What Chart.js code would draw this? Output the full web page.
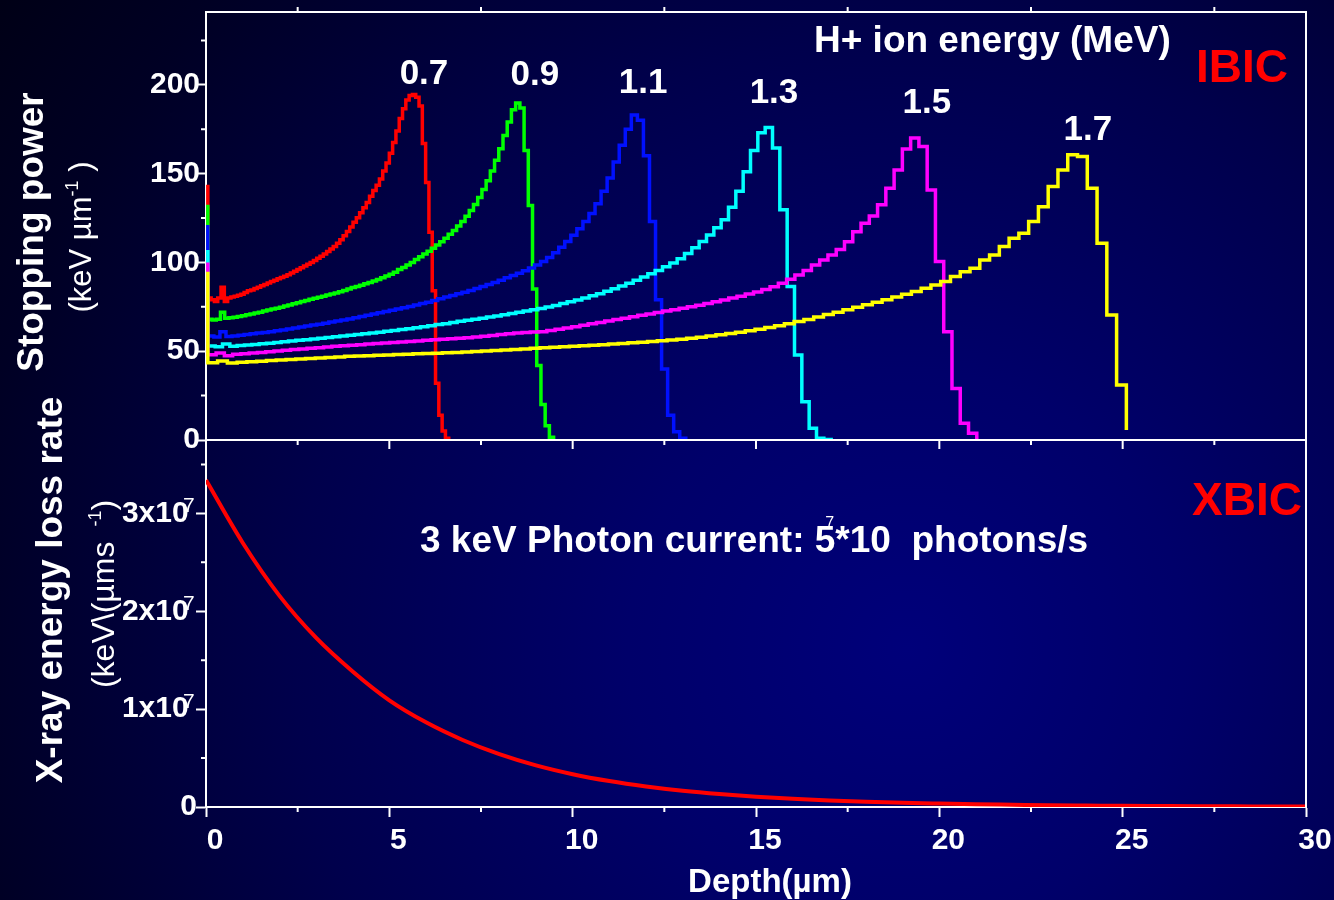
<!DOCTYPE html>
<html>
<head>
<meta charset="utf-8">
<script src="https://cdn.jsdelivr.net/npm/chart.js@4.4.1/dist/chart.umd.min.js"></script>
<style>
  html, body { margin: 0; padding: 0; }
  body {
    width: 1334px; height: 900px; overflow: hidden;
    background: radial-gradient(circle at 68% 72%, #00007a 0%, #00006a 25%, #00004c 55%, #000024 85%, #000016 100%);
  }
  canvas { display: block; }
</style>
</head>
<body>
<canvas id="depthChart" width="1334" height="900"></canvas>
<script>
// ---- data ----
const depthTicks = [0, 5, 10, 15, 20, 25, 30];
const spTicks = [0, 50, 100, 150, 200];
const xrayTicks = [0, 1e7, 2e7, 3e7];

const ionEnergy = ['0.7', '0.9', '1.1', '1.3', '1.5', '1.7'];
const ionColor = ['#ff0000', '#00ff00', '#0010ff', '#00ffff', '#ff00ff', '#ffff00'];
// value at the surface spike, and histogram bin width (um) of each run
const entrySpike = [143.7, 132.4, 121, 107, 99.9, 94.8];
const binWidth = [0.09, 0.115, 0.165, 0.2, 0.2255, 0.2665];

// stopping power per bin (keV/um)
const sp07 = [80, 79, 78, 80, 86, 78, 80, 80.5, 81, 81.5,
  82, 83, 84, 84.5, 85.3, 86, 86.8, 87.6, 88.4, 89.2,
  90, 90.8, 91.5, 92.2, 93, 94, 95, 96, 97, 98,
  99, 100, 101.1, 102.3, 103.5, 104.8, 106.2, 107.6, 109, 110.8,
  112.8, 115, 117.4, 120, 122.6, 125.2, 127.9, 130.8, 133.8, 137.2,
  140.5, 143.5, 147, 151.5, 156, 161.5, 167.5, 174, 181, 186.5,
  191.5, 194, 194.5, 193, 188, 167, 145, 117, 84, 32,
  14, 5, 1, 0];
const sp09 = [68, 67.5, 68, 72, 68.5, 68.8, 69.1, 69.5, 70, 70.5,
  71, 71.5, 72, 72.6, 73.2, 73.7, 74.2, 74.8, 75.4, 76,
  76.7, 77.3, 78, 78.6, 79.2, 79.8, 80.4, 81, 81.6, 82.2,
  82.8, 83.5, 84.2, 85, 85.8, 86.5, 87.2, 88, 88.7, 89.5,
  90.4, 91.3, 92.3, 93.3, 94.5, 96, 97.2, 98.6, 100, 101.6,
  103.2, 104.8, 106.3, 108, 109.8, 111.7, 113.6, 115.8, 118, 120.5,
  123, 126, 129.2, 132.6, 136.5, 141, 146, 151.5, 157.5, 164,
  171.5, 179, 186, 189.7, 187, 163, 132, 85, 42, 20,
  8, 1.5, 0];
const sp11 = [58.5, 58, 61, 58.3, 58.6, 59, 59.4, 59.8, 60.2, 60.6,
  61, 61.5, 62, 62.5, 63, 63.6, 64.2, 64.7, 65.2, 65.8,
  66.4, 67, 67.6, 68.2, 68.9, 69.6, 70.3, 71, 71.7, 72.4,
  73.1, 73.8, 74.5, 75.2, 76, 76.8, 77.6, 78.6, 79.6, 80.5,
  81.4, 82.3, 83.2, 84.2, 85.3, 86.4, 87.5, 88.7, 90, 91.3,
  92.6, 93.9, 95.3, 96.9, 98.6, 100.5, 102.8, 105.5, 108.6, 111.8,
  115.3, 119, 123, 127.5, 133, 140, 147.5, 156.5, 166, 175,
  183, 180, 160, 123, 79, 40, 14, 4.7, 1, 0];
const sp13 = [53, 52.5, 54, 52.8, 53.2, 53.5, 53.8, 54.2, 54.5, 54.9,
  55.3, 55.7, 56.1, 56.5, 56.9, 57.3, 57.7, 58.2, 58.6, 59,
  59.4, 59.8, 60.2, 60.7, 61.2, 61.7, 62.2, 62.7, 63.2, 63.8,
  64.4, 65, 65.5, 66.1, 66.8, 67.4, 68, 68.6, 69.2, 69.8,
  70.5, 71.2, 71.9, 72.6, 73.3, 74.1, 74.9, 75.8, 76.8, 77.8,
  78.9, 80, 81.2, 82.4, 83.7, 85.2, 86.7, 88.3, 90, 91.8,
  93.6, 95.5, 97.5, 99.7, 102, 105, 108.3, 111.8, 115.5, 119.5,
  124, 131, 140, 151, 163, 173, 176, 164.4, 129.6, 86.4,
  47.9, 21.6, 6.6, 1, 0.3, 0];
const sp15 = [48, 49, 47.5, 48.3, 48.6, 49, 49.3, 49.7, 50.1, 50.5,
  50.9, 51.3, 51.6, 52, 52.4, 52.8, 53.1, 53.4, 53.7, 54,
  54.3, 54.6, 54.9, 55.2, 55.5, 55.8, 56.1, 56.4, 56.7, 57,
  57.3, 57.6, 58, 58.4, 58.9, 59.4, 59.8, 60.2, 60.5, 60.8,
  61, 61.7, 62.4, 63.1, 63.8, 64.6, 65.4, 66.2, 67, 67.8,
  68.6, 69.4, 70.2, 71, 71.8, 72.6, 73.4, 74.2, 75, 75.9,
  76.8, 77.8, 78.8, 79.9, 81, 82.2, 83.4, 84.8, 86.3, 88.2,
  90.5, 92.9, 95.4, 98.5, 101.3, 104.2, 107.3, 111.6, 117.3, 122,
  126.2, 132.4, 141.8, 152, 163.8, 170, 165.3, 140.8, 100.5, 61,
  29, 9.4, 3.8, 0];
const sp17 = [43.5, 44.5, 43.3, 43.8, 44.1, 44.4, 44.7, 45, 45.3, 45.6,
  45.9, 46.2, 46.5, 46.8, 47.1, 47.3, 47.5, 47.7, 47.9, 48.1,
  48.3, 48.5, 48.7, 48.9, 49.1, 49.3, 49.5, 49.8, 50.1, 50.4,
  50.7, 51, 51.3, 51.6, 51.9, 52.2, 52.5, 52.8, 53.1, 53.4,
  53.7, 54, 54.3, 54.7, 55.1, 55.5, 55.9, 56.3, 56.8, 57.3,
  57.9, 58.5, 59.2, 59.9, 60.7, 61.5, 62.4, 63.4, 64.4, 65.5,
  66.7, 67.9, 69.2, 70.6, 72, 73.4, 74.8, 76.2, 77.6, 79,
  80.5, 82, 83.6, 85.5, 87.3, 89.2, 92, 94.8, 96.7, 101.4,
  104.2, 108.9, 113.6, 116.4, 123, 131.4, 142.7, 152.1, 160.6, 159.6,
  141.8, 110.8, 70.4, 31, 5.6];
const stoppingPower = [sp07, sp09, sp11, sp13, sp15, sp17];

// 3 keV X-ray energy loss rate, keV/(um s), at 1 um steps
const xrayDepth = [0, 1, 2, 3, 4, 5, 6, 7, 8, 9, 10, 11, 12, 13, 14, 15,
  16, 17, 18, 19, 20, 21, 22, 23, 24, 25, 26, 27, 28, 29, 30];
const xrayRate = [3.34e7, 2.70e7, 2.16e7, 1.73e7, 1.385e7, 1.09e7, 0.865e7, 0.685e7,
  0.54e7, 0.425e7, 0.335e7, 0.265e7, 0.21e7, 0.166e7, 0.132e7, 0.105e7,
  0.084e7, 0.067e7, 0.054e7, 0.043e7, 0.035e7, 0.028e7, 0.023e7, 0.018e7,
  0.015e7, 0.012e7, 0.0097e7, 0.008e7, 0.0065e7, 0.0053e7, 0.0043e7];

// ---- chart ----
const FONT = 'Liberation Sans, Arial, sans-serif';
const X0 = 0.05; // first bin edge

const ionSets = stoppingPower.map((vals, k) => ({
  label: ionEnergy[k] + ' MeV',
  yAxisID: 'yS',
  data: [{ x: X0, y: entrySpike[k] }].concat(vals.map((v, i) => ({ x: X0 + i * binWidth[k], y: v }))),
  borderColor: ionColor[k],
  borderWidth: 3.5,
  stepped: true,
  pointRadius: 0,
  order: 10 - k
}));

const xraySet = {
  label: 'XBIC',
  yAxisID: 'yX',
  data: xrayDepth.map((d, i) => ({ x: d, y: xrayRate[i] })),
  borderColor: '#ff0000',
  borderWidth: 4,
  cubicInterpolationMode: 'monotone',
  pointRadius: 0,
  order: 20
};

function vtext(ctx, parts, baseX, centerY) {
  ctx.save();
  ctx.translate(baseX, centerY);
  ctx.rotate(-Math.PI / 2);
  const widths = parts.map(p => { ctx.font = p[1]; return ctx.measureText(p[0]).width; });
  let u = -widths.reduce((a, b) => a + b, 0) / 2;
  ctx.textAlign = 'left';
  ctx.textBaseline = 'alphabetic';
  parts.forEach((p, i) => {
    ctx.font = p[1];
    ctx.fillText(p[0], u, -(p[2] || 0));
    u += widths[i];
  });
  ctx.restore();
}

const decor = {
  id: 'decor',
  afterDraw(chart, args, opts) {
    const ctx = chart.ctx;
    const { left, right, top, bottom } = chart.chartArea;
    const sx = chart.scales.x, ys = chart.scales.yS, yx = chart.scales.yX;
    const mid = ys.getPixelForValue(0);

    ctx.save();
    ctx.strokeStyle = '#fff';
    ctx.lineWidth = 2;
    ctx.beginPath();
    ctx.moveTo(left, top); ctx.lineTo(right, top); ctx.lineTo(right, bottom);
    ctx.moveTo(left, mid); ctx.lineTo(right, mid);
    for (let d = 2.5; d < 30; d += 5) {
      const px = sx.getPixelForValue(d);
      ctx.moveTo(px, top); ctx.lineTo(px, top - 5);
      ctx.moveTo(px, bottom); ctx.lineTo(px, bottom + 5);
    }
    for (let d = 2.5; d < 30; d += 2.5) {
      const px = sx.getPixelForValue(d);
      ctx.moveTo(px, mid); ctx.lineTo(px, mid + (d % 5 === 0 ? 9 : 5));
    }
    for (let v = 25; v < 240; v += 50) {
      const py = ys.getPixelForValue(v);
      ctx.moveTo(left - 5, py); ctx.lineTo(left, py);
    }
    for (let v = 0.5e7; v < 3.75e7; v += 1e7) {
      const py = yx.getPixelForValue(v);
      ctx.moveTo(left - 5, py); ctx.lineTo(left, py);
    }
    ctx.stroke();

    ctx.fillStyle = '#fff';
    ctx.textBaseline = 'alphabetic';

    // exponent on the X-ray tick labels
    ctx.font = '21px ' + FONT;
    ctx.textAlign = 'left';
    xrayTicks.slice(1).forEach(v => ctx.fillText('7', 183, yx.getPixelForValue(v) - 1));

    // beam energy above each Bragg peak
    ctx.font = 'bold 35px ' + FONT;
    ctx.textAlign = 'center';
    opts.peakLabels.forEach((p, k) => ctx.fillText(ionEnergy[k], sx.getPixelForValue(p[0]), ys.getPixelForValue(p[1])));

    ctx.font = 'bold 37px ' + FONT;
    ctx.textAlign = 'left';
    ctx.fillText('H+ ion energy (MeV)', 814, 52);

    const photon = '3 keV Photon current: 5*10  photons/s';
    ctx.font = 'bold 37px ' + FONT;
    ctx.fillText(photon, 420, 552);
    const w5 = ctx.measureText('3 keV Photon current: 5').width;
    ctx.font = '16px ' + FONT;
    ctx.fillText('7', 420 + w5 - 10, 528);

    ctx.fillStyle = '#ff0000';
    ctx.font = 'bold 46px ' + FONT;
    ctx.textAlign = 'center';
    ctx.fillText('IBIC', 1242, 82);
    ctx.fillText('XBIC', 1247, 515);

    ctx.fillStyle = '#fff';
    ctx.font = 'bold 33px ' + FONT;
    ctx.fillText('Depth(\u00b5m)', 770, 892);

    vtext(ctx, [['Stopping power', 'bold 37px ' + FONT]], 43, 232);
    vtext(ctx, [['(keV \u00b5m', '31px ' + FONT], ['-1', '18px ' + FONT, 13], [' )', '31px ' + FONT]], 91, 237);
    vtext(ctx, [['X-ray energy loss rate', 'bold 37px ' + FONT]], 62, 590);
    vtext(ctx, [['(keV\\(\u00b5ms', '32px ' + FONT], ['   -1', '18px ' + FONT, 13], [')', '32px ' + FONT]], 114, 594);
    ctx.restore();
  }
};

const tickFont = { family: FONT, size: 30, weight: 'bold' };
const axisGrid = { display: true, drawOnChartArea: false, color: '#fff', tickColor: '#fff', tickLength: 10, tickWidth: 2 };
const axisBorder = { display: true, color: '#fff', width: 2 };

new Chart(document.getElementById('depthChart'), {
  type: 'line',
  data: { datasets: [xraySet].concat(ionSets) },
  options: {
    responsive: false,
    animation: false,
    events: [],
    layout: { padding: { top: 12, right: 28, left: 0, bottom: 0 } },
    plugins: {
      legend: { display: false },
      tooltip: { enabled: false },
      decor: { peakLabels: [[5.945, 200.6], [8.97, 200], [11.92, 195.5], [15.49, 189.9], [19.66, 184.2], [24.05, 169]] }
    },
    scales: {
      x: {
        type: 'linear', position: 'bottom', min: 0, max: 30,
        afterBuildTicks: s => { s.ticks = depthTicks.map(v => ({ value: v })); },
        afterFit: s => { s.height = 93; s.paddingLeft = 0; s.paddingRight = 0; },
        ticks: { color: '#fff', font: tickFont, padding: 6, labelOffset: 9, maxRotation: 0 },
        grid: axisGrid, border: axisBorder
      },
      yX: {
        type: 'linear', position: 'left', stack: 'depth', stackWeight: 367,
        min: 0, max: 3.75e7,
        afterBuildTicks: s => { s.ticks = xrayTicks.map(v => ({ value: v })); },
        afterFit: s => { s.width = 206; s.paddingTop = 0; s.paddingBottom = 0; },
        ticks: { color: '#fff', font: tickFont, padding: -1, callback: v => v === 0 ? '0' : (v / 1e7) + 'x10 ' },
        grid: axisGrid, border: axisBorder
      },
      yS: {
        type: 'linear', position: 'left', stack: 'depth', stackWeight: 428,
        min: 0, max: 241,
        afterBuildTicks: s => { s.ticks = spTicks.map(v => ({ value: v })); },
        afterFit: s => { s.width = 206; s.paddingTop = 0; s.paddingBottom = 0; },
        ticks: { color: '#fff', font: tickFont, padding: -4 },
        grid: axisGrid, border: axisBorder
      }
    }
  },
  plugins: [decor]
});
</script>
</body>
</html>
